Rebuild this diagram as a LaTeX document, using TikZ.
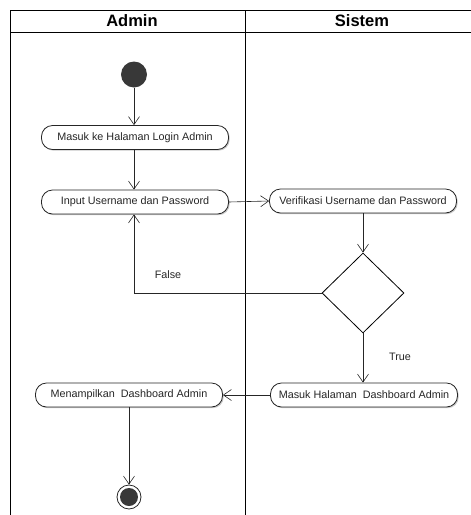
\documentclass[tikz,border=0pt]{standalone}
\usepackage{fontspec}
\setmainfont{Liberation Sans}
\usetikzlibrary{arrows.meta,shapes.geometric,shadows}
\begin{document}
\begin{tikzpicture}[x=1pt,y=-1pt,
  act/.style={draw=black!85,line width=0.8pt,fill=white,rounded corners=11pt,
    minimum width=187pt,minimum height=24pt,inner sep=0pt,font=\fontsize{10.8}{12}\selectfont,
    text=black!85,drop shadow={shadow xshift=1.2pt,shadow yshift=-1.2pt,fill=black!35,opacity=0.6}},
  flow/.style={draw=black!85,line width=0.6pt,-{Straight Barb[length=8pt,width=11pt]}},
  lane/.style={draw=black,line width=0.9pt},
  hdr/.style={font=\fontsize{16.5}{18}\bfseries\selectfont},
  lbl/.style={font=\fontsize{10.8}{12}\selectfont,text=black!85}]
\useasboundingbox (0,0) rectangle (471,515);
% swimlanes
\draw[lane] (471,10.5) -- (10.5,10.5) -- (10.5,515);
\draw[lane] (10.5,32) -- (471,32);
\draw[lane] (245,10.5) -- (245,515);
\node[hdr] (hA) at (132,21) {Admin};
\node[hdr] (hS) at (362,21) {Sistem};
% nodes
\node[circle,fill=black!78,minimum size=26pt,inner sep=0pt] (start) at (134,74.5) {};
\node[act] (masuk) at (135,137.5) {Masuk ke Halaman Login Admin};
\node[act] (input) at (135,202) {Input Username dan Password};
\node[act] (verif) at (363,201) {Verifikasi Username dan Password};
\node[diamond,draw=black,line width=0.8pt,fill=white,minimum width=82pt,minimum height=80pt,inner sep=0pt,aspect=1.02] (dec) at (363,293) {};
\node[act] (mhd) at (364,395) {Masuk Halaman\ \ Dashboard Admin};
\node[act] (mda) at (129,395) {Menampilkan\ \ Dashboard Admin};
\node[circle,draw=black!85,line width=0.8pt,fill=white,minimum size=24pt,inner sep=0pt] (end) at (129,497) {};
\node[circle,fill=black!78,minimum size=18pt,inner sep=0pt] (endin) at (end) {};
% connectors
\draw[flow] (start.south) -- (start.south |- masuk.north);
\draw[flow] (masuk.south -| start.south) -- (start.south |- input.north);
\draw[flow] (input.east) -- (verif.west);
\draw[flow] (verif.south) -- (dec.north);
\draw[flow] (dec.west) -- (dec.west -| start.south) -- (start.south |- input.south);
\draw[flow] (dec.south) -- (mhd.north -| dec.south);
\draw[flow] (mhd.west) -- (mda.east);
\draw[flow] (mda.south) -- (end.north);
% labels
\node[lbl] (lf) at (168,275) {False};
\node[lbl] (lt) at (400,357) {True};
\end{tikzpicture}
\end{document}
